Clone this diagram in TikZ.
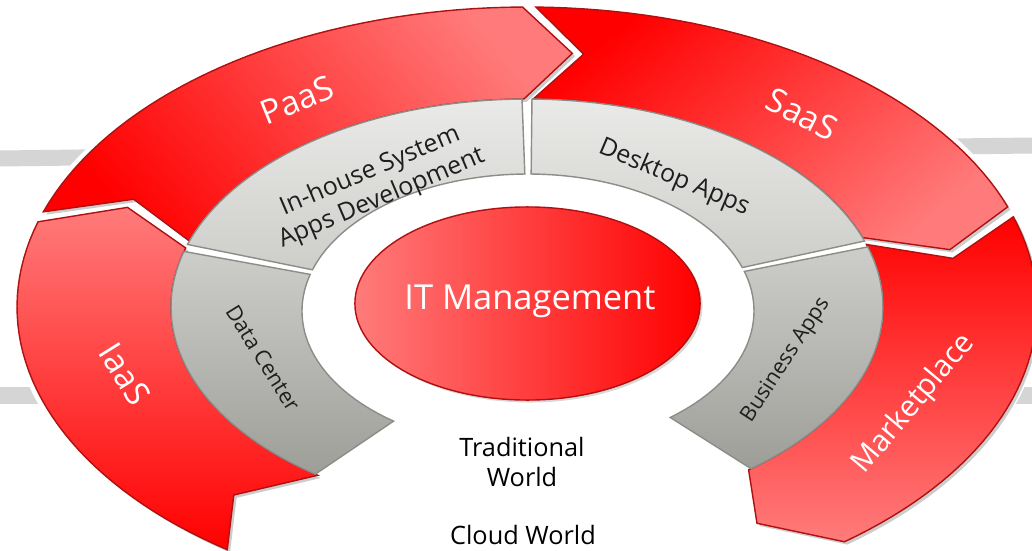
\documentclass[tikz,border=0pt]{standalone}
\usepackage{fontspec}
\setmainfont{Open Sans}
\usepackage{xcolor}
\usepackage{tikz}
\usetikzlibrary{positioning, shapes, shadows}
\definecolor{ringred}{HTML}{FF0000}
\definecolor{ringpink}{HTML}{FF7B7B}
\definecolor{edgered}{HTML}{B01010}
\definecolor{lightgrey}{HTML}{EAEAE8}
\definecolor{midgrey}{HTML}{CDCDCA}
\definecolor{darkgrey}{HTML}{9E9E99}
\definecolor{edgegrey}{HTML}{8C8C88}
\definecolor{bargrey}{HTML}{D5D5D5}
\definecolor{textgrey}{HTML}{1E1E1E}
\tikzstyle{redband} = [draw=edgered, line width=0.4pt,
    drop shadow={shadow xshift=0.8pt, shadow yshift=-0.8pt, opacity=0.4}]
\tikzstyle{greypart} = [draw=edgegrey, line width=0.4pt]
\tikzstyle{bandlabel} = [text=white, font=\fontsize{9.5}{11}\selectfont]
\tikzstyle{partlabel} = [text=textgrey, font=\fontsize{7.1}{8.4}\selectfont, align=center]
\tikzstyle{worldlabel} = [text=black, font=\fontsize{7.2}{8.4}\selectfont, align=center]
\tikzstyle{bar} = [draw=bargrey, line width=0.16cm]
% red arrow along the outer ring: #1 style, #2 tail angle, #3 head angle
\newcommand{\ringarrow}[3]{%
  \path[#1] plot[domain=#2:#3, samples=40] ({527+510*cos(\x)}, {307+300*sin(\x)})
    -- ({527+434*cos(#3+6.5)}, {307+255*sin(#3+6.5)})
    -- plot[domain=#3:#2, samples=40] ({527+356*cos(\x)}, {307+208*sin(\x)})
    -- ({527+434*cos(#2+6.5)}, {307+255*sin(#2+6.5)}) -- cycle;}
% grey piece of the inner ring: #1 style, #2 start angle, #3 end angle
\newcommand{\ringpart}[3]{%
  \path[#1] plot[domain=#2:#3, samples=40] ({527+356*cos(\x)}, {307+208*sin(\x)})
    -- plot[domain=#3:#2, samples=40] ({528+226*cos(\x)}, {311+137*sin(\x)}) -- cycle;}

\begin{document}
\begin{tikzpicture}[x=0.01cm, y=-0.01cm]
        \clip (0,0) rectangle (1032,551);
        \fill[white] (0,0) rectangle (1032,551);
        % Background bars
        \draw[bar] (0,158.5) -- (1032,145.5);
        \draw[bar] (0,395.5) -- (1032,395.5);
        \fill[white] (527,307) ellipse [x radius=5.15cm, y radius=3.05cm];
        % Outer ring
        \ringarrow{redband, top color=ringpink, bottom color=ringred}{126}{196.5}
        \ringarrow{redband, top color=ringpink, bottom color=ringred, shading angle=-50}{198.5}{269.5}
        \ringarrow{redband, top color=ringred, bottom color=ringpink, shading angle=40}{271}{340.5}
        \ringarrow{redband, top color=ringred, bottom color=ringpink}{342.5}{411.5}
        % Inner ring
        \ringpart{greypart, top color=midgrey, bottom color=darkgrey}{126.5}{195.5}
        \ringpart{greypart, top color=lightgrey, bottom color=midgrey}{197.5}{269.2}
        \ringpart{greypart, top color=lightgrey, bottom color=midgrey}{270.8}{341.5}
        \ringpart{greypart, top color=midgrey, bottom color=darkgrey}{343.2}{411}
        % Place nodes
        \node [ellipse, draw=edgered, line width=0.4pt, left color=ringpink, right color=ringred,
            minimum width=3.45cm, minimum height=1.93cm, inner sep=0pt,
            drop shadow={shadow xshift=0.7pt, shadow yshift=-0.7pt, opacity=0.3}] (itm) at (527.5,303.5) {};
        \node [text=white, font=\fontsize{9.8}{11}\selectfont] (itlabel) at (530,301) {IT Management};
        \node [bandlabel, rotate=-58] (iaas) at (125,374) {IaaS};
        \node [bandlabel, rotate=22] (paas) at (297,100) {PaaS};
        \node [bandlabel, rotate=-27] (saas) at (802,114) {SaaS};
        \node [bandlabel, rotate=50, font=\fontsize{8.5}{10}\selectfont] (market) at (914,404) {Marketplace};
        \node [partlabel, rotate=-58, font=\fontsize{6.1}{7.2}\selectfont] (datacenter) at (263,358) {Data Center};
        \node [partlabel, rotate=23] (inhouse) at (376,185) {In-house System\\Apps Development};
        \node [partlabel, rotate=-23] (desktop) at (674,178) {Desktop Apps};
        \node [partlabel, rotate=57, font=\fontsize{6.1}{7.2}\selectfont] (business) at (786,360) {Business Apps};
        \node [worldlabel] (traditional) at (522,462) {Traditional\\World};
        \node [worldlabel] (cloud) at (523,535) {Cloud World};
      \end{tikzpicture}
\end{document}
